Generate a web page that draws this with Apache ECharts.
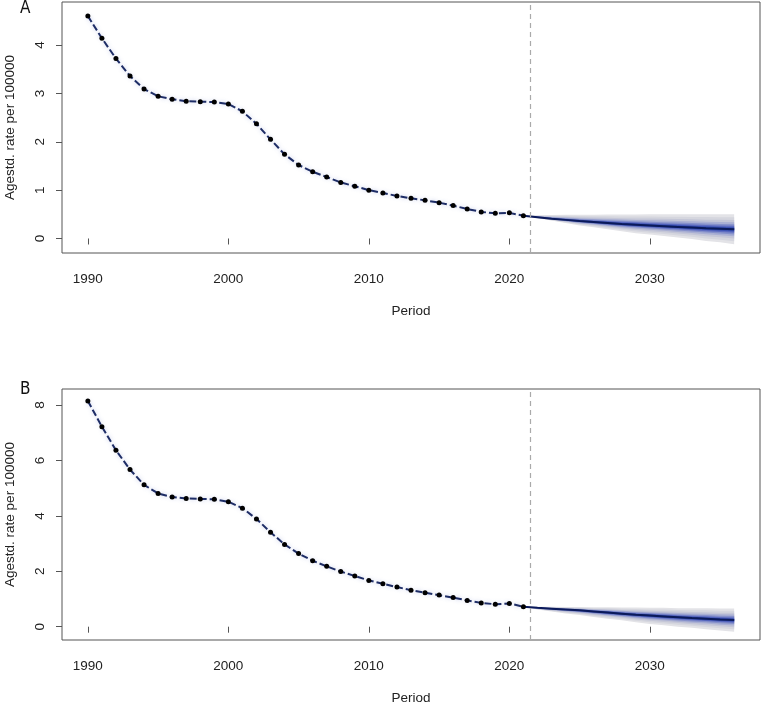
<!DOCTYPE html>
<html>
<head>
<meta charset="utf-8">
<script src="https://cdn.jsdelivr.net/npm/echarts@6/dist/echarts.min.js"></script>
<style>html,body{margin:0;padding:0;background:#fff;}#chart{width:763px;height:703px;}</style>
</head>
<body>
<div id="chart"></div>
<script>
// ---------- data ----------
const years = [1990,1991,1992,1993,1994,1995,1996,1997,1998,1999,2000,2001,2002,2003,2004,2005,2006,2007,2008,2009,2010,2011,2012,2013,2014,2015,2016,2017,2018,2019,2020,2021];
const histA = [4.60,4.14,3.72,3.36,3.09,2.94,2.88,2.84,2.83,2.82,2.78,2.63,2.37,2.05,1.74,1.52,1.38,1.27,1.16,1.08,1.00,0.94,0.88,0.83,0.79,0.74,0.68,0.61,0.55,0.52,0.53,0.47];
const histB = [8.15,7.22,6.37,5.67,5.12,4.81,4.68,4.63,4.61,4.60,4.51,4.28,3.89,3.41,2.97,2.64,2.38,2.18,1.99,1.83,1.67,1.55,1.43,1.32,1.23,1.14,1.05,0.95,0.86,0.81,0.84,0.72];

const fcYears = [2021,2022,2023,2024,2025,2026,2027,2028,2029,2030,2031,2032,2033,2034,2035,2036];
const medA = [0.47,0.44,0.41,0.385,0.36,0.34,0.32,0.30,0.285,0.27,0.255,0.24,0.225,0.21,0.20,0.19];
const loA  = [0.47,0.42,0.37,0.32,0.27,0.23,0.19,0.15,0.11,0.08,0.05,0.02,-0.01,-0.05,-0.08,-0.12];
const hiA  = [0.47,0.48,0.485,0.49,0.49,0.49,0.495,0.495,0.495,0.50,0.50,0.50,0.50,0.50,0.50,0.50];
const medB = [0.72,0.68,0.65,0.62,0.59,0.55,0.51,0.47,0.43,0.40,0.37,0.34,0.31,0.29,0.26,0.24];
const loB  = [0.72,0.62,0.55,0.48,0.42,0.35,0.29,0.23,0.16,0.10,0.05,0.00,-0.04,-0.09,-0.14,-0.18];
const hiB  = [0.72,0.72,0.72,0.71,0.71,0.70,0.70,0.69,0.69,0.68,0.68,0.67,0.67,0.67,0.66,0.66];

const xTicks = [1990,2000,2010,2020,2030];
const yTicksA = [0,1,2,3,4];
const yTicksB = [0,2,4,6,8];
const lastObs = 2021.5;

// fan shading (visual levels between median and outer bounds)
const fanLevels = [1, 0.8, 0.62, 0.47, 0.34, 0.23, 0.14, 0.07];
const fanColors = ['#e3e3e7','#d5d6de','#c4c6d7','#a9afd3','#8590cb','#5d6cc1','#3a50b3','#2341a8'];

// ---------- layout ----------
const grids = [
  {left:62, top:2, width:698, height:251, show:true, borderColor:'#555', borderWidth:1, containLabel:false, outerBoundsMode:'none'},
  {left:62, top:389, width:698, height:251, show:true, borderColor:'#555', borderWidth:1, containLabel:false, outerBoundsMode:'none'}
];
const font = 'Liberation Sans, Arial, sans-serif';

function xAxis(gi){
  return {
    type:'value', gridIndex:gi, min:1988.16, max:2037.84,
    name:'Period', nameLocation:'middle', nameGap:51,
    nameTextStyle:{fontFamily:font, fontSize:13.5, color:'#222'},
    axisLine:{show:false},
    axisTick:{show:true, customValues:xTicks, length:6, lineStyle:{color:'#555'}},
    axisLabel:{customValues:xTicks, margin:19, fontFamily:font, fontSize:13.5, color:'#222', formatter:v=>String(v)},
    splitLine:{show:false}
  };
}
function yAxis(gi, mn, mx, ticks){
  return {
    type:'value', gridIndex:gi, min:mn, max:mx,
    name:'Agestd. rate per 100000', nameLocation:'middle', nameGap:45,
    nameTextStyle:{fontFamily:font, fontSize:13.5, color:'#222'},
    axisLine:{show:false},
    axisTick:{show:true, customValues:ticks, length:6, lineStyle:{color:'#555'}},
    axisLabel:{customValues:ticks, margin:15, rotate:90, align:'center', verticalAlign:'bottom',
               fontFamily:font, fontSize:13.5, color:'#222', formatter:v=>String(v)},
    splitLine:{show:false}
  };
}

function panelSeries(gi, hist, med, lo, hi){
  const s = [];
  fanLevels.forEach((k, i) => {
    const band = fcYears.map((x, j) => [x, med[j] + k*(lo[j]-med[j]), med[j] + k*(hi[j]-med[j])]);
    const color = fanColors[i];
    s.push({type:'custom', xAxisIndex:gi, yAxisIndex:gi, data:band, encode:{x:0, y:[1,2]},
            silent:true, z:2, clip:true,
            renderItem:(params, api) => {
              if (params.dataIndex !== 0) return null;
              const pts = [];
              band.forEach(d => pts.push(api.coord([d[0], d[2]])));
              for (let j = band.length - 1; j >= 0; j--) pts.push(api.coord([band[j][0], band[j][1]]));
              return {type:'polygon', shape:{points:pts}, style:{fill:color, stroke:null}};
            }});
  });
  s.push({type:'line', xAxisIndex:gi, yAxisIndex:gi, data:fcYears.map((x,j)=>[x, med[j]]),
          symbol:'none', lineStyle:{color:'#0b1a5a', width:2}, z:4, silent:true,
          markLine:{silent:true, symbol:'none', label:{show:false},
                    lineStyle:{color:'#aaaaaa', type:[5,4], width:1.2},
                    data:[{xAxis:lastObs}]}});
  s.push({type:'line', xAxisIndex:gi, yAxisIndex:gi, data:years.map((x,j)=>[x, hist[j]]),
          symbol:'circle', symbolSize:5, itemStyle:{color:'#000'},
          lineStyle:{color:'#1e2d66', width:2, type:[7,3], shadowColor:'rgba(80,100,190,0.35)', shadowBlur:4},
          z:5, silent:true});
  return s;
}

const chart = echarts.init(document.getElementById('chart'), null, {renderer:'canvas'});
chart.setOption({
  animation:false,
  backgroundColor:'#fff',
  grid:grids,
  xAxis:[xAxis(0), xAxis(1)],
  yAxis:[yAxis(0,-0.30,4.89,yTicksA), yAxis(1,-0.48,8.58,yTicksB)],
  series:[].concat(panelSeries(0, histA, medA, loA, hiA), panelSeries(1, histB, medB, loB, hiB)),
  graphic:[
    {type:'text', left:20, top:0, style:{text:'A', fontFamily:'DejaVu Sans Condensed', fontSize:17, fill:'#111'}},
    {type:'text', left:20, top:381, style:{text:'B', fontFamily:'DejaVu Sans Condensed', fontSize:17, fill:'#111'}}
  ]
});
</script>
</body>
</html>
